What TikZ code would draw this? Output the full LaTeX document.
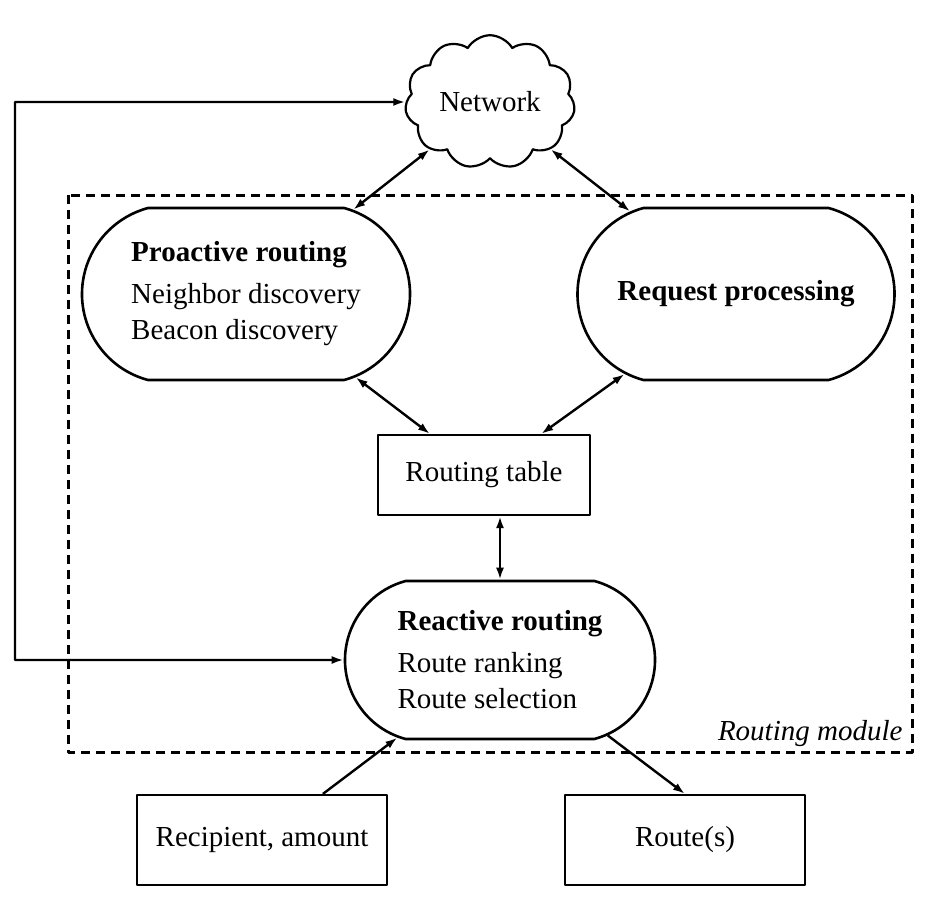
\documentclass[tikz,border=0pt]{standalone}
\usepackage{fontspec}
\setmainfont{Liberation Serif}
\usetikzlibrary{shapes.misc,shapes.symbols,arrows.meta}

\begin{document}
\begin{tikzpicture}[x=1pt, y=1pt, font=\fontsize{29}{36}\selectfont,
  line join=round,
  blob/.style={draw, rounded rectangle, rounded rectangle arc length=150,
    line width=2.6pt, align=left, inner sep=0pt},
  box/.style={draw, rectangle, line width=2.2pt, minimum height=#1},
  link/.style={line width=2.4pt, -{Latex[length=12pt,width=8pt]}},
  twoway/.style={line width=2.4pt, {Latex[length=12pt,width=8pt]}-{Latex[length=12pt,width=8pt]}},
  frame/.style={dash pattern=on 9pt off 6pt, line width=3pt}]
  \useasboundingbox (0,0) rectangle (933,-907);

  \draw[frame] (68,-195) rectangle (912,-752);
  \node[anchor=base east, font=\fontsize{29}{36}\selectfont\itshape] (modname) at (906,-740) {Routing module};

  \node[draw, cloud, cloud puffs=11, cloud puff arc=120, aspect=1.35, line width=2.2pt,
    minimum width=170pt, minimum height=125pt] (net) at (490,-102) {Network};
  \node[blob, minimum width=328pt, minimum height=172pt] (pro) at (246,-294)
    {\textbf{Proactive routing}\\[6pt] Neighbor discovery\\ Beacon discovery};
  \node[blob, minimum width=317pt, minimum height=172pt] (req) at (736,-294)
    {\textbf{Request processing}};
  \node[box=80pt, minimum width=212pt] (tab) at (484,-475) {Routing table};
  \node[blob, minimum width=310pt, minimum height=158pt] (rea) at (500,-660)
    {\textbf{Reactive routing}\\[6pt] Route ranking\\ Route selection};
  \node[box=90pt, minimum width=250pt] (rcp) at (262,-840) {Recipient, amount};
  \node[box=90pt, minimum width=240pt] (rts) at (685,-840) {Route(s)};
  \coordinate (turn) at (15,-102);

  \draw[twoway] (net) -- (pro);
  \draw[twoway] (net) -- (req);
  \draw[twoway] (pro) -- (tab);
  \draw[twoway] (req) -- (tab);
  \draw[twoway] (rea.north |- tab.south) -- (rea.north);
  \draw[twoway] (net.west) -- (turn) |- (rea.west);
  \draw[link] (rcp) -- (rea);
  \draw[link] (rea.325) -- (rts.north);
\end{tikzpicture}
\end{document}
